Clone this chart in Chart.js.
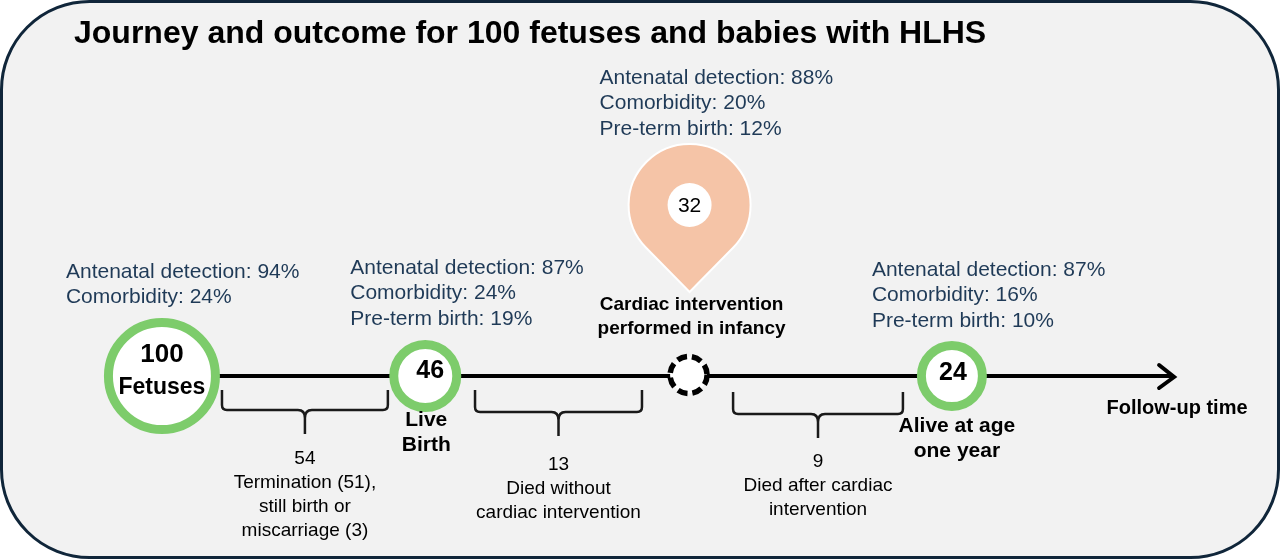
<!DOCTYPE html>
<html>
<head>
<meta charset="utf-8">
<script src="https://cdn.jsdelivr.net/npm/chart.js@4/dist/chart.umd.min.js"></script>
<style>
  html, body { margin: 0; padding: 0; background: #ffffff; }
  #wrap { width: 1280px; height: 560px; }
</style>
</head>
<body>
<div id="wrap"><canvas id="c" width="1280" height="560"></canvas></div>
<script>
// ---------- DATA ----------
const title = "Journey and outcome for 100 fetuses and babies with HLHS";
const stageValues = [100, 46, 32, 24];
const stageLabels = [["Fetuses"], ["Live", "Birth"], ["Cardiac intervention", "performed in infancy"], ["Alive at age", "one year"]];
const antenatalDetection = [94, 87, 88, 87];
const comorbidity = [24, 24, 20, 16];
const pretermBirth = [null, 19, 12, 10];
const lossValues = [54, 13, 9];
const lossLabels = [
  ["Termination (51),", "still birth or", "miscarriage (3)"],
  ["Died without", "cardiac intervention"],
  ["Died after cardiac", "intervention"]
];
const axisLabel = "Follow-up time";

// ---------- LAYOUT / STYLE ----------
const FONT = "'Liberation Sans', Arial, sans-serif";
const NAVY = "#1f3a57";
const GREEN = "#7dcc6b";
const stageX = [0, 1, 2, 3];
const arrowEnd = 3.84;
const ringRadius = [58, 36, null, 35];     // outer radius in px
const ringWidth = 9;
const statOffset = [ {dx: -96, y: 272}, {dx: -75, y: 268}, {dx: -89, y: 78}, {dx: -80, y: 270} ];
const bracketSpans = [[0.228, 0.858], [1.189, 1.823], [2.169, 2.814]];

const greenIdx = [0, 1, 3];

const bgPlugin = {
  id: 'bg',
  beforeDraw(chart) {
    const ctx = chart.ctx;
    ctx.save();
    ctx.fillStyle = '#ffffff';
    ctx.fillRect(0, 0, chart.width, chart.height);
    const x0 = 1.5, y0 = 1.5, x1 = chart.width - 1.5, y1 = chart.height - 2.5, r = 88;
    ctx.beginPath();
    ctx.moveTo(x0 + r, y0);
    ctx.lineTo(x1 - r, y0);
    ctx.arcTo(x1, y0, x1, y0 + r, r);
    ctx.lineTo(x1, y1 - r);
    ctx.arcTo(x1, y1, x1 - r, y1, r);
    ctx.lineTo(x0 + r, y1);
    ctx.arcTo(x0, y1, x0, y1 - r, r);
    ctx.lineTo(x0, y0 + r);
    ctx.arcTo(x0, y0, x0 + r, y0, r);
    ctx.closePath();
    ctx.fillStyle = '#f2f2f2';
    ctx.fill();
    ctx.lineWidth = 3;
    ctx.strokeStyle = '#10263a';
    ctx.stroke();
    ctx.restore();
  }
};

const overlayPlugin = {
  id: 'overlay',
  afterDatasetsDraw(chart) {
    const ctx = chart.ctx;
    const xs = chart.scales.x, ys = chart.scales.y;
    const X = v => xs.getPixelForValue(v);
    const Y = v => ys.getPixelForValue(v);
    const y0 = Y(0);
    ctx.save();

    // Title
    ctx.fillStyle = '#000';
    ctx.font = `bold 32px ${FONT}`;
    ctx.textAlign = 'left';
    ctx.textBaseline = 'alphabetic';
    ctx.fillText(title, 74, 43);

    // Arrow head
    const ax = X(arrowEnd);
    ctx.strokeStyle = '#000';
    ctx.lineWidth = 4;
    ctx.lineCap = 'round';
    ctx.lineJoin = 'miter';
    ctx.beginPath();
    ctx.moveTo(ax - 14, y0 - 11);
    ctx.lineTo(ax + 1, y0 + 1);
    ctx.lineTo(ax - 14, y0 + 12);
    ctx.stroke();

    // Dashed circle at intervention stage
    const dx = X(stageX[2]);
    ctx.beginPath();
    ctx.arc(dx, y0 - 1, 18.5, 0, Math.PI * 2);
    ctx.fillStyle = '#fff';
    ctx.fill();
    ctx.setLineDash([10, 5]);
    ctx.lineWidth = 5.5;
    ctx.lineCap = 'butt';
    ctx.strokeStyle = '#000';
    ctx.stroke();
    ctx.setLineDash([]);

    // Pin
    const pcx = dx + 1, pcy = 205, pr = 61, tipY = 292;
    const d = tipY - pcy;
    const th = Math.acos(pr / d);
    ctx.beginPath();
    ctx.moveTo(pcx, tipY);
    ctx.lineTo(pcx + pr * Math.cos(Math.PI / 2 + th), pcy + pr * Math.sin(Math.PI / 2 + th));
    ctx.arc(pcx, pcy, pr, Math.PI / 2 + th, Math.PI / 2 - th + Math.PI * 2, false);
    ctx.closePath();
    ctx.fillStyle = '#f5c4a7';
    ctx.fill();
    ctx.lineWidth = 2;
    ctx.strokeStyle = '#ffffff';
    ctx.stroke();
    ctx.beginPath();
    ctx.arc(pcx, pcy, 22, 0, Math.PI * 2);
    ctx.fillStyle = '#fff';
    ctx.fill();
    ctx.fillStyle = '#000';
    ctx.font = `21px ${FONT}`;
    ctx.textAlign = 'center';
    ctx.textBaseline = 'middle';
    ctx.fillText(String(stageValues[2]), pcx, pcy + 1);

    // Numbers inside rings
    ctx.font = `bold 26px ${FONT}`;
    ctx.fillText(String(stageValues[0]), X(stageX[0]), y0 - 21);
    ctx.font = `bold 23px ${FONT}`;
    ctx.fillText(stageLabels[0][0], X(stageX[0]), y0 + 12);
    ctx.font = `bold 25px ${FONT}`;
    ctx.fillText(String(stageValues[1]), X(stageX[1]) + 5, y0 - 5);
    ctx.fillText(String(stageValues[3]), X(stageX[3]) + 1, y0 - 3);

    // Stage labels
    ctx.font = `bold 21px ${FONT}`;
    stageLabels[1].forEach((t, i) => ctx.fillText(t, X(stageX[1]) + 1, 420 + i * 25));
    stageLabels[3].forEach((t, i) => ctx.fillText(t, X(stageX[3]) + 5, 426 + i * 25));
    ctx.font = `bold 19px ${FONT}`;
    stageLabels[2].forEach((t, i) => ctx.fillText(t, dx + 3, 305 + i * 24));
    ctx.font = `bold 20px ${FONT}`;
    ctx.fillText(axisLabel, 1177, 408);

    // Stats
    ctx.font = `21px ${FONT}`;
    ctx.fillStyle = NAVY;
    ctx.textAlign = 'left';
    stageX.forEach((s, i) => {
      const lines = [`Antenatal detection: ${antenatalDetection[i]}%`, `Comorbidity: ${comorbidity[i]}%`];
      if (pretermBirth[i] !== null) lines.push(`Pre-term birth: ${pretermBirth[i]}%`);
      const lx = X(s) + statOffset[i].dx;
      lines.forEach((t, k) => ctx.fillText(t, lx, statOffset[i].y + k * 25.5));
    });

    // Brackets + captions
    ctx.strokeStyle = '#1a1a1a';
    ctx.lineWidth = 2.5;
    ctx.lineCap = 'butt';
    ctx.lineJoin = 'round';
    const tops = [390, 390, 392], bots = [410, 412, 414], tips = [434, 436, 438];
    bracketSpans.forEach((sp, i) => {
      const x1 = X(sp[0]), x2 = X(sp[1]), m = (x1 + x2) / 2;
      const t = tops[i], b = bots[i], tip = tips[i], r = 5;
      ctx.beginPath();
      ctx.moveTo(x1, t);
      ctx.lineTo(x1, b - r);
      ctx.quadraticCurveTo(x1, b, x1 + r, b);
      ctx.lineTo(m - 7, b);
      ctx.quadraticCurveTo(m, b, m, b + 8);
      ctx.lineTo(m, tip);
      ctx.moveTo(x2, t);
      ctx.lineTo(x2, b - r);
      ctx.quadraticCurveTo(x2, b, x2 - r, b);
      ctx.lineTo(m + 7, b);
      ctx.quadraticCurveTo(m, b, m, b + 8);
      ctx.stroke();

      ctx.fillStyle = '#000';
      ctx.font = `19px ${FONT}`;
      ctx.textAlign = 'center';
      const capY = [459, 465, 462][i];
      ctx.fillText(String(lossValues[i]), m, capY);
      lossLabels[i].forEach((s, k) => ctx.fillText(s, m, capY + 24 * (k + 1)));
    });

    ctx.restore();
  }
};

const ctx = document.getElementById('c').getContext('2d');
new Chart(ctx, {
  data: {
    datasets: [
      {
        type: 'scatter',
        data: greenIdx.map(i => ({ x: stageX[i], y: 0 })),
        pointRadius: greenIdx.map(i => ringRadius[i] - ringWidth / 2),
        pointHoverRadius: greenIdx.map(i => ringRadius[i] - ringWidth / 2),
        pointBorderWidth: ringWidth,
        pointHoverBorderWidth: ringWidth,
        pointBackgroundColor: '#ffffff',
        pointBorderColor: GREEN,
        clip: false,
        order: 1
      },
      {
        type: 'line',
        data: [{ x: stageX[0], y: 0 }, { x: arrowEnd, y: 0 }],
        borderColor: '#000',
        borderWidth: 4,
        pointRadius: 0,
        clip: false,
        order: 2
      }
    ]
  },
  options: {
    responsive: false,
    animation: false,
    devicePixelRatio: 1,
    events: [],
    layout: { padding: 0, autoPadding: false },
    plugins: { legend: { display: false }, tooltip: { enabled: false }, title: { display: false } },
    scales: {
      x: { type: 'linear', min: -0.615, max: 4.246, display: false },
      y: { type: 'linear', min: -184, max: 376, display: false }
    }
  },
  plugins: [bgPlugin, overlayPlugin]
});
</script>
</body>
</html>
